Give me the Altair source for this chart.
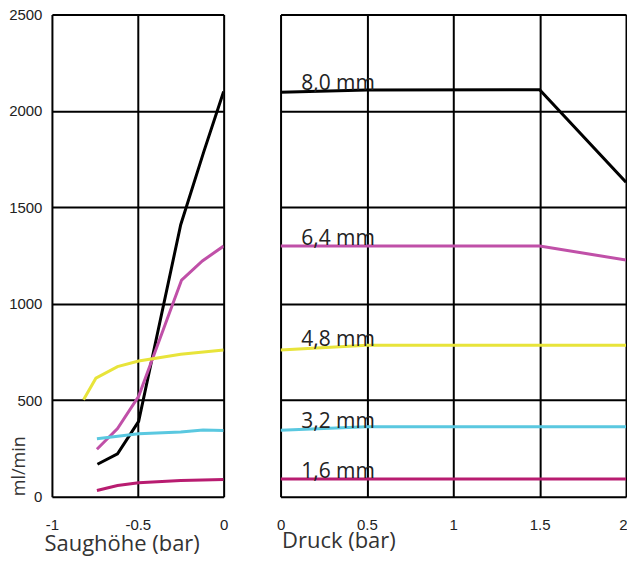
import altair as alt
import pandas as pd

# ---- data ----
series_names = ["8,0 mm", "6,4 mm", "4,8 mm", "3,2 mm", "1,6 mm"]
series_colors = ["#000000", "#c050a8", "#e8e43a", "#5ac8e0", "#b81c70"]

# left panel: Saughöhe (bar)
l8_x = [-0.735, -0.618, -0.495, -0.25, -0.115, 0.0]
l8_y = [168, 222, 390, 1410, 1790, 2100]
l64_x = [-0.738, -0.618, -0.495, -0.245, -0.124, 0.0]
l64_y = [246, 353, 520, 1123, 1222, 1299]
l48_x = [-0.816, -0.744, -0.618, -0.495, -0.25, 0.0]
l48_y = [503, 614, 674, 703, 738, 760]
l32_x = [-0.738, -0.495, -0.25, -0.12, 0.0]
l32_y = [300, 326, 335, 345, 343]
l16_x = [-0.738, -0.618, -0.495, -0.25, 0.0]
l16_y = [32, 58, 72, 84, 89]

# right panel: Druck (bar)
r8_x = [0.0, 0.5, 1.5, 2.0]
r8_y = [2097, 2108, 2110, 1630]
r64_x = [0.0, 1.5, 2.0]
r64_y = [1299, 1299, 1227]
r48_x = [0.0, 0.5, 2.0]
r48_y = [760, 785, 785]
r32_x = [0.0, 0.5, 2.0]
r32_y = [344, 363, 363]
r16_x = [0.0, 2.0]
r16_y = [92, 92]

label_x = [0.12, 0.12, 0.12, 0.12, 0.12]
label_y = [2110, 1305, 780, 357, 96]

y_ticks = [0, 500, 1000, 1500, 2000, 2500]
left_ticks = [-1, -0.5, 0]
right_ticks = [0, 0.5, 1, 1.5, 2]


def build(xs_list, ys_list):
    rows = []
    for name, xs, ys in zip(series_names, xs_list, ys_list):
        for i, (x, y) in enumerate(zip(xs, ys)):
            rows.append({"series": name, "x": x, "y": y, "order": i})
    return pd.DataFrame(rows)


left_df = build([l8_x, l64_x, l48_x, l32_x, l16_x], [l8_y, l64_y, l48_y, l32_y, l16_y])
right_df = build([r8_x, r64_x, r48_x, r32_x, r16_x], [r8_y, r64_y, r48_y, r32_y, r16_y])
labels_df = pd.DataFrame({"x": label_x, "y": label_y, "text": series_names})

color = alt.Color("series:N", scale=alt.Scale(domain=series_names, range=series_colors), legend=None)
yscale = alt.Scale(domain=[0, 2500], nice=False)

label_font = "Liberation Sans"
title_font = "Open Sans"
PLOT_H = 483

left = alt.Chart(left_df).mark_line(strokeWidth=3, clip=True).encode(
    x=alt.X("x:Q", scale=alt.Scale(domain=[-1, 0], nice=False),
            axis=alt.Axis(values=left_ticks, labelExpr="'' + datum.value", grid=True,
                          gridColor="black", gridWidth=2, gridOpacity=1, labelFlush=False,
                          domain=False, ticks=False, tickSize=0, labelPadding=21,
                          labelFont=label_font, labelFontSize=15, labelColor="#222",
                          title="Saughöhe (bar)", titleFont=title_font, titleFontSize=22,
                          titleFontWeight="normal", titleColor="#333",
                          titleAnchor="start", titleAlign="left", titleBaseline="alphabetic",
                          titleX=-8, titleY=54)),
    y=alt.Y("y:Q", scale=yscale,
            axis=alt.Axis(values=y_ticks, format="d", grid=True,
                          gridColor="black", gridWidth=2, gridOpacity=1,
                          domain=False, ticks=False, tickSize=0, labelPadding=10,
                          labelFont=label_font, labelFontSize=15, labelColor="#222",
                          title="ml/min", titleFont=title_font, titleFontSize=18,
                          titleFontWeight="normal", titleColor="#333",
                          titleAngle=270, titleAlign="left", titleBaseline="alphabetic",
                          titleX=-27.5, titleY=PLOT_H - 1)),
    color=color,
    detail="series:N",
    order="order:Q",
).properties(width=172, height=PLOT_H)

right_lines = alt.Chart(right_df).mark_line(strokeWidth=3, clip=True).encode(
    x=alt.X("x:Q", scale=alt.Scale(domain=[0, 2], nice=False),
            axis=alt.Axis(values=right_ticks, labelExpr="'' + datum.value", grid=True,
                          gridColor="black", gridWidth=2, gridOpacity=1, labelFlush=False,
                          domain=False, ticks=False, tickSize=0, labelPadding=21,
                          labelAlign=alt.condition("datum.value == 2", alt.value("right"), alt.value("center")),
                          labelOffset=alt.condition("datum.value == 2", alt.value(1), alt.value(0)),
                          labelFont=label_font, labelFontSize=15, labelColor="#222",
                          title="Druck (bar)", titleFont=title_font, titleFontSize=22,
                          titleFontWeight="normal", titleColor="#333",
                          titleAnchor="start", titleAlign="left", titleBaseline="alphabetic",
                          titleX=1, titleY=51)),
    y=alt.Y("y:Q", scale=yscale,
            axis=alt.Axis(values=y_ticks, grid=True, gridColor="black", gridWidth=2,
                          gridOpacity=1, labels=False, domain=False, ticks=False,
                          tickSize=0, title=None)),
    color=color,
    detail="series:N",
    order="order:Q",
)

right_text = alt.Chart(labels_df).mark_text(
    align="left", baseline="alphabetic", font=title_font, fontSize=21, color="#222"
).encode(
    x="x:Q",
    y="y:Q",
    text="text:N",
)

right = alt.layer(right_lines, right_text).properties(width=346, height=PLOT_H)

chart = alt.hconcat(left, right, spacing=57, bounds="flush").properties(
    padding={"left": 0, "top": -2, "right": -1, "bottom": 0},
).configure_view(stroke="black", strokeWidth=2).configure(background="white")

chart.save("out.html", embed_options={"renderer": "svg", "actions": False})
